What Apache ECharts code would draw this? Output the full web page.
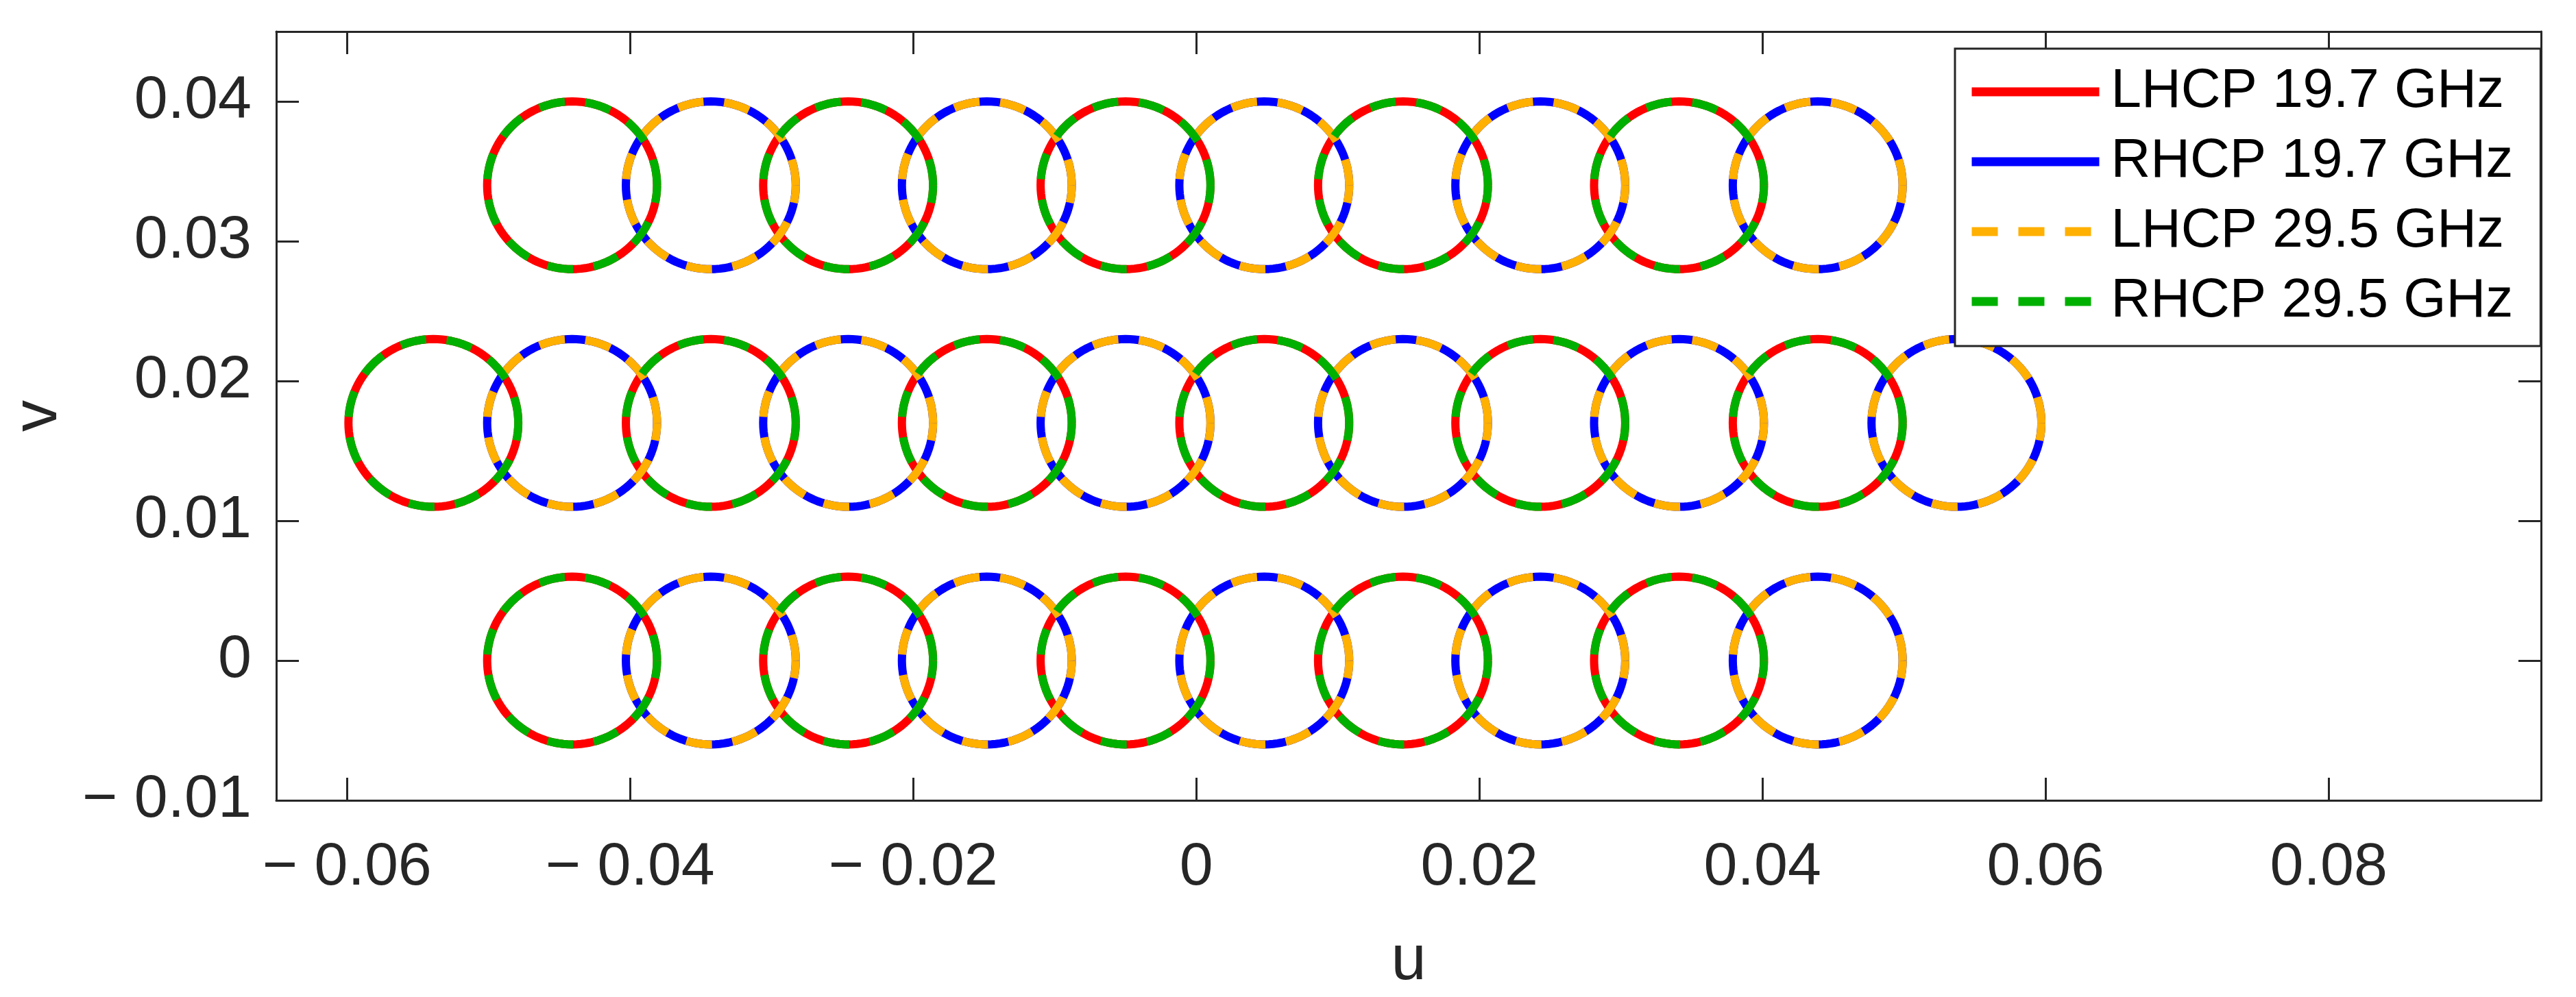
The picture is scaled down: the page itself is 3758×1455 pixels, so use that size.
<!DOCTYPE html>
<html><head><meta charset="utf-8">
<script src="https://cdn.jsdelivr.net/npm/echarts@6/dist/echarts.min.js"></script>
<style>html,body{margin:0;padding:0;background:#fff}#c{width:3758px;height:1455px}</style>
</head><body><div id="c"></div>
<script>
const seriesNames = ['LHCP 19.7 GHz','RHCP 19.7 GHz','LHCP 29.5 GHz','RHCP 29.5 GHz'];
const topRowU = [-0.0441,-0.0343,-0.0246,-0.0148,-0.0050,0.0048,0.0146,0.0243,0.0341,0.0439];
const midRowU = [-0.0539,-0.0441,-0.0343,-0.0246,-0.0148,-0.0050,0.0048,0.0146,0.0243,0.0341,0.0439,0.0537];
const botRowU = [-0.0441,-0.0343,-0.0246,-0.0148,-0.0050,0.0048,0.0146,0.0243,0.0341,0.0439];
const rowV = [0.0340, 0.0170, 0.0000];
const radiusU = 0.0060, radiusV = 0.0060;
const xTicks = [-0.06,-0.04,-0.02,0,0.02,0.04,0.06,0.08];
const yTicks = [-0.01,0,0.01,0.02,0.03,0.04];

const rows = [topRowU, midRowU, botRowU];
function ring(cu, cv, out){
  for(let i=0;i<=120;i++){const a=i/120*2*Math.PI;out.push([cu+radiusU*Math.cos(a), cv+radiusV*Math.sin(a)]);}
  out.push([null,null]);
}
const data = [[],[],[],[]];
rows.forEach((r,ri)=>r.forEach((u,k)=>{
  if(k%2===0){ring(u,rowV[ri],data[0]);ring(u,rowV[ri],data[3]);}
  else {ring(u,rowV[ri],data[1]);ring(u,rowV[ri],data[2]);}
}));
const colors=['#ff0000','#0000ff','#ffb000','#00b000'];
const dashed=[false,false,true,true];
const fmt=v=>{const s=Math.abs(v)<1e-9?'0':String(+v.toFixed(3));return s.startsWith('-')?'\u2212 '+s.slice(1):s;};
const axCol='#262626';
const F='Liberation Sans, Arial, sans-serif';
const chart=echarts.init(document.getElementById('c'));
const baseX={type:'value',min:-0.065,max:0.095,splitLine:{show:false},
  axisLine:{show:true,onZero:false,lineStyle:{color:axCol,width:3}},
  axisTick:{show:true,inside:true,length:33,lineStyle:{color:axCol,width:3},customValues:xTicks}};
const baseY={type:'value',min:-0.01,max:0.045,splitLine:{show:false},
  axisLine:{show:true,onZero:false,lineStyle:{color:axCol,width:3}},
  axisTick:{show:true,inside:true,length:33,lineStyle:{color:axCol,width:3},customValues:yTicks}};
chart.setOption({
  animation:false,
  grid:{left:403,top:46,width:3304,height:1138},
  legend:{left:2852,top:71,orient:'vertical',data:seriesNames,itemWidth:186,itemHeight:20,itemGap:20,
    padding:[22,40,24,18],borderColor:axCol,borderWidth:3,backgroundColor:'#fff',
    itemStyle:{opacity:0},lineStyle:{width:13},
    textStyle:{fontFamily:F,fontSize:80,color:'#000',lineHeight:82,padding:[0,0,0,12]}},
  xAxis:[Object.assign({},baseX,{position:'bottom',name:'u',nameLocation:'middle',nameGap:190,
      nameTextStyle:{fontFamily:F,fontSize:92,color:axCol},
      axisLabel:{customValues:xTicks,formatter:fmt,margin:55,fontFamily:F,fontSize:88,color:axCol}}),
    Object.assign({},baseX,{position:'top',axisLabel:{show:false}})],
  yAxis:[Object.assign({},baseY,{position:'left',name:'v',nameLocation:'middle',nameGap:300,
      nameTextStyle:{fontFamily:F,fontSize:92,color:axCol},
      axisLabel:{customValues:yTicks,formatter:fmt,margin:36,fontFamily:F,fontSize:88,color:axCol}}),
    Object.assign({},baseY,{position:'right',axisLabel:{show:false}})],
  series:seriesNames.map((n,i)=>({name:n,type:'line',data:data[i],showSymbol:false,symbol:'none',connectNulls:false,
    color:colors[i],z:dashed[i]?3:2,
    lineStyle:{color:colors[i],width:12,type:dashed[i]?[38,30]:'solid'}}))
});
</script></body></html>
